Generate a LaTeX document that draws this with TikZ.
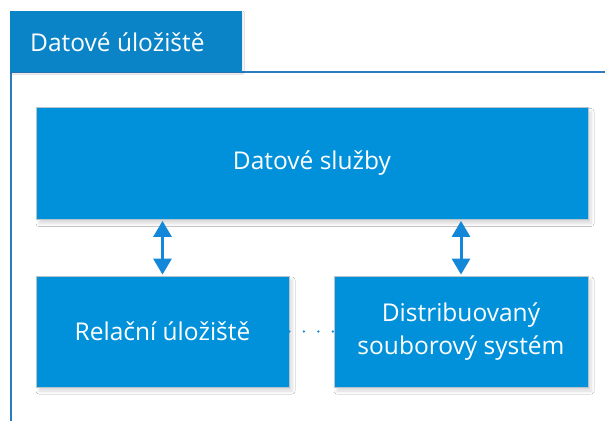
\documentclass[tikz,border=0pt]{standalone}
\usepackage{fontspec}
\setmainfont{Open Sans}
\usetikzlibrary{arrows.meta,shadows.blur}

\definecolor{tabblue}{HTML}{0A84C6}
\definecolor{boxblue}{HTML}{0091DA}
\definecolor{framblue}{HTML}{2B7BBF}
\definecolor{arrowblue}{HTML}{1488D8}
\definecolor{boxedge}{HTML}{B8C4CC}

\tikzset{
  compbox/.style={rectangle, fill=boxblue, draw=boxedge, line width=0.8pt,
    inner sep=0pt, text=white, align=center,
    font=\fontsize{24.5}{33}\selectfont,
    blur shadow={shadow xshift=3pt, shadow yshift=-4pt,
      shadow blur steps=6, shadow blur radius=3pt, shadow opacity=15}},
  tabbox/.style={rectangle, fill=tabblue, inner sep=0pt,
    blur shadow={shadow xshift=1pt, shadow yshift=-1pt,
      shadow blur steps=3, shadow blur radius=1pt, shadow opacity=10}},
  frameline/.style={draw=framblue, line width=2pt},
  linkarrow/.style={draw=arrowblue, line width=3pt,
    {Triangle[width=18pt,length=16pt]}-{Triangle[width=18pt,length=16pt]},
    shorten <=1pt, shorten >=1pt},
  dotlink/.style={draw=arrowblue, line width=2.6pt, line cap=round,
    dash pattern=on 0pt off 14.5pt},
}

\begin{document}
\begin{tikzpicture}[x=1pt,y=-1pt]
  \useasboundingbox (0,0) rectangle (605,421);
  \fill[white] (0,0) rectangle (605,421);

  % outer frame and its title tab
  \draw[frameline] (11,421) -- (11,72) -- (605,72);
  \node[tabbox, minimum width=232pt, minimum height=61pt] (tab) at (126,41.5) {};
  \node[anchor=west, text=white, inner sep=0pt,
    font=\fontsize{24.5}{28}\selectfont] (title) at (30,42) {Datové úložiště};

  % components
  \node[compbox, minimum width=552pt, minimum height=112pt] (svc) at (312,163.5) {Datové služby};
  \node[compbox, minimum width=253pt, minimum height=111pt] (rel) at (162.5,331.5) {Relační úložiště};
  \node[compbox, minimum width=254pt, minimum height=111pt] (dfs) at (461,331.5)
    {Distribuovaný\\souborový systém};

  % connections
  \draw[linkarrow] (svc.south -| rel.north) -- (rel.north);
  \draw[linkarrow] (svc.south -| dfs.north) -- (dfs.north);
  \draw[dotlink] (rel.east) -- (dfs.west);
\end{tikzpicture}
\end{document}
